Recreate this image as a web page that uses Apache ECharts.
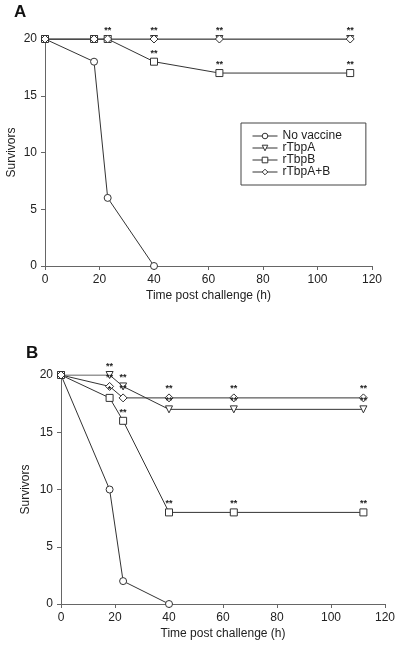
<!DOCTYPE html>
<html><head><meta charset="utf-8">
<script src="https://cdn.jsdelivr.net/npm/echarts@6/dist/echarts.min.js"></script>
<style>html,body{margin:0;padding:0;background:#fff}#c{width:400px;height:646px}</style>
</head><body><div id="c"></div>
<script>
const hours = [0, 18, 23, 40, 64, 112];
const hoursNoVac = [0, 18, 23, 40];
const seriesNames = ['No vaccine', 'rTbpA', 'rTbpB', 'rTbpA+B'];
// Panel A
const A_noVaccine = [20, 18, 6, 0];
const A_rTbpA = [20, 20, 20, 20, 20, 20];
const A_rTbpB = [20, 20, 20, 18, 17, 17];
const A_rTbpAB = [20, 20, 20, 20, 20, 20];
const A_sigA = ['', '', '**', '**', '**', '**'];
const A_sigB = ['', '', '', '**', '**', '**'];
const A_sigAB = ['', '', '', '', '', ''];
// Panel B
const B_noVaccine = [20, 10, 2, 0];
const B_rTbpA = [20, 20, 19, 17, 17, 17];
const B_rTbpB = [20, 18, 16, 8, 8, 8];
const B_rTbpAB = [20, 19, 18, 18, 18, 18];
const B_sigA = ['', '**', '**', '**', '**', '**'];
const B_sigB = ['', '*', '**', '**', '**', '**'];
const B_sigAB = ['', '**', '**', '**', '**', '**'];
const xTicks = [0, 20, 40, 60, 80, 100, 120];
const yTicks = [0, 5, 10, 15, 20];

const LINE = '#333';
const FONT = 'Liberation Sans, Arial, sans-serif';
const symbols = ['circle', 'triangle', 'rect', 'diamond'];
const rotates = [0, 180, 0, 0];
const sizes = [7, 7, 7, 8];

function pts(xs, ys) { return ys.map((v, i) => [xs[i], v]); }

function mk(idx, name, xs, ys, sig, grid) {
  return {
    type: 'line', name: name, xAxisIndex: grid, yAxisIndex: grid,
    data: pts(xs, ys), symbol: symbols[idx], symbolSize: sizes[idx], symbolRotate: rotates[idx],
    showAllSymbol: true,
    lineStyle: { color: LINE, width: 1 },
    itemStyle: { color: '#fff', borderColor: LINE, borderWidth: 1 },
    label: sig ? {
      show: true, position: 'top', distance: 0, color: '#222', fontSize: 9, fontFamily: FONT,
      fontWeight: 'bold',
      formatter: p => sig[p.dataIndex]
    } : { show: false },
    emphasis: { disabled: true },
    animation: false
  };
}

function xAx(grid) {
  return {
    type: 'value', gridIndex: grid, min: 0, max: 120, interval: 20,
    name: 'Time post challenge (h)', nameLocation: 'middle', nameGap: 24, nameMoveOverlap: false,
    nameTextStyle: { fontFamily: FONT, fontSize: 12, color: '#222' },
    axisLine: { show: true, lineStyle: { color: '#666' } },
    axisTick: { show: true, length: 4, lineStyle: { color: '#666' } },
    axisLabel: { fontFamily: FONT, fontSize: 12, color: '#222', margin: 8 },
    splitLine: { show: false }
  };
}
function yAx(grid, gap) {
  return {
    type: 'value', gridIndex: grid, min: 0, max: 20, interval: 5,
    name: 'Survivors', nameLocation: 'middle', nameGap: gap, nameMoveOverlap: false,
    nameTextStyle: { fontFamily: FONT, fontSize: 12, color: '#222' },
    axisLine: { show: true, lineStyle: { color: '#666' } },
    axisTick: { show: true, length: 4, lineStyle: { color: '#666' } },
    axisLabel: { fontFamily: FONT, fontSize: 12, color: '#222', margin: 8 },
    splitLine: { show: false }
  };
}

const chart = echarts.init(document.getElementById('c'), null, { renderer: 'canvas' });
chart.setOption({
  backgroundColor: '#fff',
  animation: false,
  graphic: [
    { type: 'text', left: 14, top: 4, style: { text: 'A', font: 'bold 17px ' + FONT, fill: '#111' } },
    { type: 'text', left: 26, top: 345, style: { text: 'B', font: 'bold 17px ' + FONT, fill: '#111' } }
  ],
  legend: {
    data: seriesNames, orient: 'vertical', left: 241, top: 123,
    borderColor: '#444', borderWidth: 1, padding: [7, 24, 7, 11], itemGap: 0,
    itemWidth: 25, itemHeight: 7,
    lineStyle: { width: 1, color: LINE },
    itemStyle: { color: '#fff', borderColor: LINE, borderWidth: 1 },
    textStyle: { fontFamily: FONT, fontSize: 12, color: '#222' },
    selectedMode: false
  },
  grid: [
    { left: 45, right: 28, top: 39, height: 227, containLabel: false, outerBoundsMode: 'none' },
    { left: 61, right: 15, top: 375, height: 229, containLabel: false, outerBoundsMode: 'none' }
  ],
  xAxis: [xAx(0), xAx(1)],
  yAxis: [yAx(0, 27), yAx(1, 29)],
  series: [
    mk(0, seriesNames[0], hoursNoVac, A_noVaccine, null, 0),
    mk(1, seriesNames[1], hours, A_rTbpA, A_sigA, 0),
    mk(2, seriesNames[2], hours, A_rTbpB, A_sigB, 0),
    mk(3, seriesNames[3], hours, A_rTbpAB, A_sigAB, 0),
    mk(0, seriesNames[0], hoursNoVac, B_noVaccine, null, 1),
    mk(1, seriesNames[1], hours, B_rTbpA, B_sigA, 1),
    mk(2, seriesNames[2], hours, B_rTbpB, B_sigB, 1),
    mk(3, seriesNames[3], hours, B_rTbpAB, B_sigAB, 1)
  ]
});
</script></body></html>
